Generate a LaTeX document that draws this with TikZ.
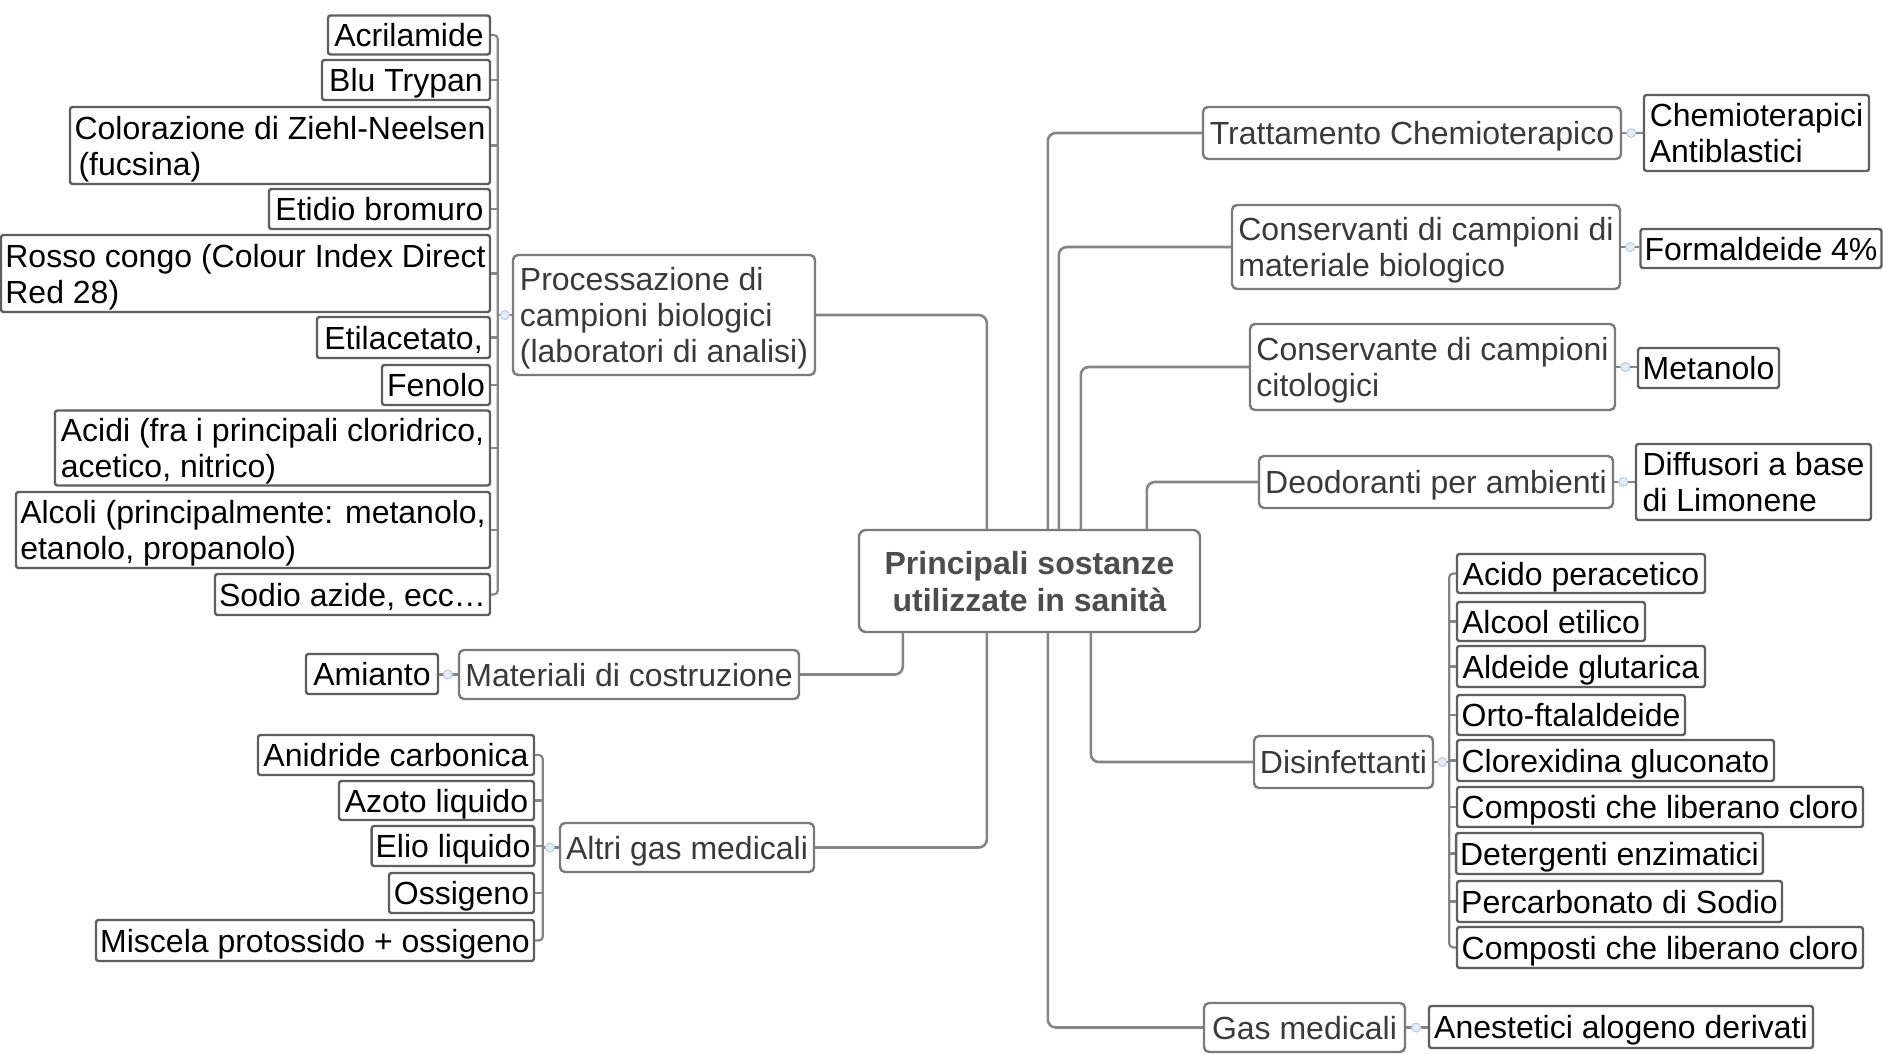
\documentclass[tikz,border=0pt]{standalone}
\usepackage{fontspec}
\setmainfont{Liberation Sans}
\definecolor{linec}{HTML}{858585}
\definecolor{leafc}{HTML}{5E5E5E}
\definecolor{catc}{HTML}{7A7A7A}
\definecolor{cattext}{HTML}{3A3A3A}
\definecolor{roottext}{HTML}{4D4D4D}
\definecolor{markb}{HTML}{B9CBE3}
\definecolor{markf}{HTML}{E3ECF7}
\newcommand\bx[7]{%
  \pgfmathsetmacro\bxcx{(#3+#5)/2}\pgfmathsetmacro\bxcy{(#4+#6)/2}%
  \pgfmathsetmacro\bxw{#5-#3}\pgfmathsetmacro\bxh{#6-#4}%
  \node[#1, minimum width=\bxw pt, minimum height=\bxh pt] (#2) at (\bxcx,\bxcy) {\rule[-7pt]{0pt}{37pt}#7\rule[-7pt]{0pt}{7pt}};}
\begin{document}
\begin{tikzpicture}[x=1pt,y=-1pt,
  base/.style={inner xsep=4pt, inner ysep=1pt, font=\fontsize{32}{36}\selectfont, align=left, line width=2.4pt},
  leaf/.style={base, draw=leafc, rounded corners=2.5pt, text=black},
  cat/.style={base, draw=catc, rounded corners=5pt, text=cattext},
  rootbox/.style={base, draw=catc, rounded corners=7pt, text=roottext, align=center, font=\fontsize{32}{37}\selectfont\bfseries},
  conn/.style={draw=linec, line width=2.6pt, rounded corners=8pt},
  brk/.style={draw=linec, line width=2.2pt, rounded corners=4pt},
  marker/.style={circle, inner sep=0pt, minimum size=9pt, draw=markb, fill=markf, line width=1pt}
]
\fill[white] (0,0) rectangle (1883,1053);
\useasboundingbox (0,0) rectangle (1883,1053);

% root
\bx{rootbox}{root}{859}{530}{1200}{632}{Principali sostanze\\utilizzate in sanità}

% left: Processazione
\bx{cat}{proc}{513}{255}{815}{375}{Processazione di\\campioni biologici\\(laboratori di analisi)}
\bx{leaf}{acril}{328}{16}{490}{54}{Acrilamide}
\bx{leaf}{blu}{322}{60}{490}{100}{Blu Trypan}
\bx{leaf}{ziehl}{70}{107}{490}{184}{Colorazione di Ziehl-Neelsen\\\hspace{4pt}(fucsina)}
\bx{leaf}{etidio}{269}{189}{490}{229}{Etidio bromuro}
\bx{leaf}{rosso}{1}{235}{490}{312}{Rosso congo (Colour Index Direct\\Red 28)}
\bx{leaf}{etil}{317}{317}{490}{358}{Etilacetato,}
\bx{leaf}{fenolo}{382}{365}{490}{405}{Fenolo}
\bx{leaf}{acidi}{55}{411}{490}{485}{Acidi (fra i principali cloridrico,\\acetico, nitrico)}
\bx{leaf}{alcoli}{16}{492}{490}{568}{Alcoli (principalmente: metanolo,\\etanolo, propanolo)}
\bx{leaf}{sodio}{215}{574}{490}{615}{Sodio azide, ecc…}

% left: Materiali
\bx{cat}{mat}{459}{650}{799}{699}{Materiali di costruzione}
\bx{leaf}{amianto}{306}{654}{438}{694}{Amianto}

% left: Altri gas
\bx{cat}{altri}{560}{823}{814}{872}{Altri gas medicali}
\bx{leaf}{anidride}{258}{735}{534}{775}{Anidride carbonica}
\bx{leaf}{azoto}{339}{781}{534}{820}{Azoto liquido}
\bx{leaf}{elio}{372}{826}{534}{866}{Elio liquido}
\bx{leaf}{ossigeno}{389}{873}{534}{913}{Ossigeno}
\bx{leaf}{miscela}{96}{920}{534}{961}{Miscela protossido + ossigeno}

% right side
\bx{cat}{tratt}{1203}{107}{1621}{159}{Trattamento Chemioterapico}
\bx{leaf}{chemio}{1644}{95}{1869}{171}{Chemioterapici\\Antiblastici}
\bx{cat}{consB}{1232}{205}{1620}{289}{Conservanti di campioni di\\materiale biologico}
\bx{leaf}{formal}{1643}{229}{1879}{268}{Formaldeide 4\%}
\bx{cat}{consC}{1250}{324}{1615}{410}{Conservante di campioni\\citologici}
\bx{leaf}{metan}{1638}{348}{1779}{388}{Metanolo}
\bx{cat}{deod}{1259}{456}{1613}{508}{Deodoranti per ambienti}
\bx{leaf}{diff}{1636}{444}{1871}{520}{Diffusori a base\\di Limonene}

\bx{cat}{disinf}{1254}{736}{1433}{788}{Disinfettanti}
\bx{leaf}{d1}{1457}{554}{1705}{593}{Acido peracetico}
\bx{leaf}{d2}{1457}{602}{1645}{641}{Alcool etilico}
\bx{leaf}{d3}{1457}{646}{1705}{687}{Aldeide glutarica}
\bx{leaf}{d4}{1457}{695}{1685}{735}{Orto-ftalaldeide}
\bx{leaf}{d5}{1457}{740}{1774}{781}{Clorexidina gluconato}
\bx{leaf}{d6}{1457}{787}{1863}{827}{Composti che liberano cloro}
\bx{leaf}{d7}{1457}{833}{1762}{874}{Detergenti enzimatici}
\bx{leaf}{d8}{1457}{881}{1782}{922}{Percarbonato di Sodio}
\bx{leaf}{d9}{1457}{927}{1863}{968}{Composti che liberano cloro}

\bx{cat}{gasmed}{1204}{1003}{1405}{1052}{Gas medicali}
\bx{leaf}{anest}{1429}{1006}{1813}{1048}{Anestetici alogeno derivati}

% root connectors
\draw[conn] (proc.east) -| ([xshift=129pt]root.north west);
\draw[conn] (tratt.west) -| ([xshift=190pt]root.north west);
\draw[conn] (consB.west) -| ([xshift=201pt]root.north west);
\draw[conn] (consC.west) -| ([xshift=223pt]root.north west);
\draw[conn] (deod.west) -| ([xshift=289pt]root.north west);
\draw[conn] (mat.east) -| ([xshift=45pt]root.south west);
\draw[conn] (altri.east) -| ([xshift=129pt]root.south west);
\draw[conn] (gasmed.west) -| ([xshift=190pt]root.south west);
\draw[conn] (disinf.west) -| ([xshift=233pt]root.south west);

% single child links
\draw[brk] (tratt.east) -- (tratt.east -| chemio.west);
\draw[brk] (consB.east) -- (consB.east -| formal.west);
\draw[brk] (consC.east) -- (consC.east -| metan.west);
\draw[brk] (deod.east) -- (deod.east -| diff.west);
\draw[brk] (mat.west) -- (mat.west -| amianto.east);
\draw[brk] (gasmed.east) -- (gasmed.east -| anest.west);

% bracket: Processazione
\coordinate (pb) at ([xshift=-14pt]proc.west);
\draw[brk] (acril.east) -| (pb) |- (sodio.east);
\draw[brk] (proc.west) -- (pb);
\foreach \n in {blu,ziehl,etidio,rosso,etil,fenolo,acidi,alcoli}
  \draw[brk] (\n.east) -- (\n.east -| pb);

% bracket: Altri gas
\coordinate (ab) at ([xshift=-16pt]altri.west);
\draw[brk] (anidride.east) -| (ab) |- (miscela.east);
\draw[brk] (altri.west) -- (ab);
\foreach \n in {azoto,elio,ossigeno}
  \draw[brk] (\n.east) -- (\n.east -| ab);

% bracket: Disinfettanti
\coordinate (db) at ([xshift=15pt]disinf.east);
\draw[brk] (d1.west) -| (db) |- (d9.west);
\draw[brk] (disinf.east) -- (db);
\foreach \n in {d2,d3,d4,d5,d6,d7,d8}
  \draw[brk] (\n.west) -- (\n.west -| db);

% collapse markers
\node[marker] (mk1) at ([xshift=-7pt]proc.west) {};
\node[marker] (mk2) at ([xshift=-10pt]mat.west) {};
\node[marker] (mk3) at ([xshift=-9pt]altri.west) {};
\node[marker] (mk4) at ([xshift=9pt]tratt.east) {};
\node[marker] (mk5) at ([xshift=9pt]consB.east) {};
\node[marker] (mk6) at ([xshift=9pt]consC.east) {};
\node[marker] (mk7) at ([xshift=9pt]deod.east) {};
\node[marker] (mk8) at ([xshift=8pt]disinf.east) {};
\node[marker] (mk9) at ([xshift=10pt]gasmed.east) {};
\end{tikzpicture}
\end{document}
